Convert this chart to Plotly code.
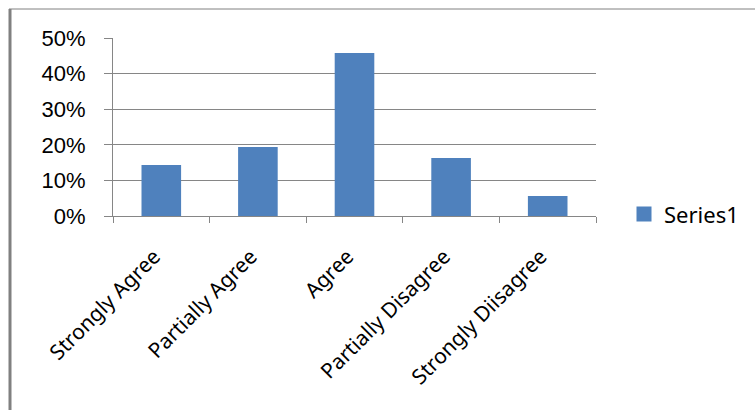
import plotly.graph_objects as go

categories = ["Strongly Agree", "Partially Agree", "Agree", "Partially Disagree", "Strongly Diisagree"]
values = [0.143, 0.194, 0.458, 0.163, 0.056]
series_name = "Series1"
y_ticks = [0, 0.1, 0.2, 0.3, 0.4, 0.5]
y_tick_labels = ["0%", "10%", "20%", "30%", "40%", "50%"]

W, H = 755, 410
L, R, T, B = 113, 596, 38, 216
bar_color = "#4F81BD"

fig = go.Figure()
fig.add_trace(go.Bar(x=categories, y=values, name=series_name,
                     marker=dict(color=bar_color, line=dict(width=0)),
                     showlegend=False))
# legend entry with a larger square swatch
fig.add_trace(go.Scatter(x=[None], y=[None], mode="markers", name=series_name,
                         marker=dict(symbol="square", size=15, color=bar_color),
                         showlegend=True))

grid = "#868686"
fig.update_layout(
    width=W, height=H,
    margin=dict(l=L, r=W - R, t=T, b=H - B, pad=0, autoexpand=False),
    paper_bgcolor="white", plot_bgcolor="white",
    bargap=0.59,
    showlegend=True,
    legend=dict(x=(624 - L) / (R - L), xanchor="left", y=0.01, yanchor="middle",
                font=dict(family="Noto Sans", size=22, color="black"),
                itemwidth=30,
                bgcolor="rgba(0,0,0,0)"),
    font=dict(family="Noto Sans", color="black"),
)
fig.update_xaxes(
    showgrid=False, showline=True, linecolor=grid, linewidth=1,
    ticks="outside", tickson="boundaries", ticklen=6, tickcolor=grid,
    tickangle=-45, tickfont=dict(family="Noto Sans", size=21, color="black"),
    ticklabelstandoff=19, ticklabelshift=-7,
    zeroline=False, automargin=False,
)
fig.update_yaxes(
    range=[0, 0.5], tickvals=y_ticks, ticktext=y_tick_labels,
    showgrid=True, gridcolor=grid, gridwidth=1,
    showline=True, linecolor=grid, linewidth=1,
    ticks="outside", ticklen=8, tickcolor=grid,
    tickfont=dict(family="Liberation Sans", size=22, color="black"),
    ticklabelstandoff=14,
    zeroline=False, automargin=False,
)

def px_x(p):
    return (p - L) / (R - L)

def px_y(p):
    return (B - p) / (B - T)

# chart border
fig.add_shape(type="line", xref="paper", yref="paper",
              x0=px_x(10), x1=px_x(10), y0=px_y(9), y1=px_y(412),
              line=dict(color="#808080", width=3))
fig.add_shape(type="line", xref="paper", yref="paper",
              x0=px_x(9), x1=px_x(760), y0=px_y(9), y1=px_y(9),
              line=dict(color="#808080", width=1))

fig.write_html("out.html", config={"displayModeBar": False},
               post_script="document.body.style.margin='0';")
